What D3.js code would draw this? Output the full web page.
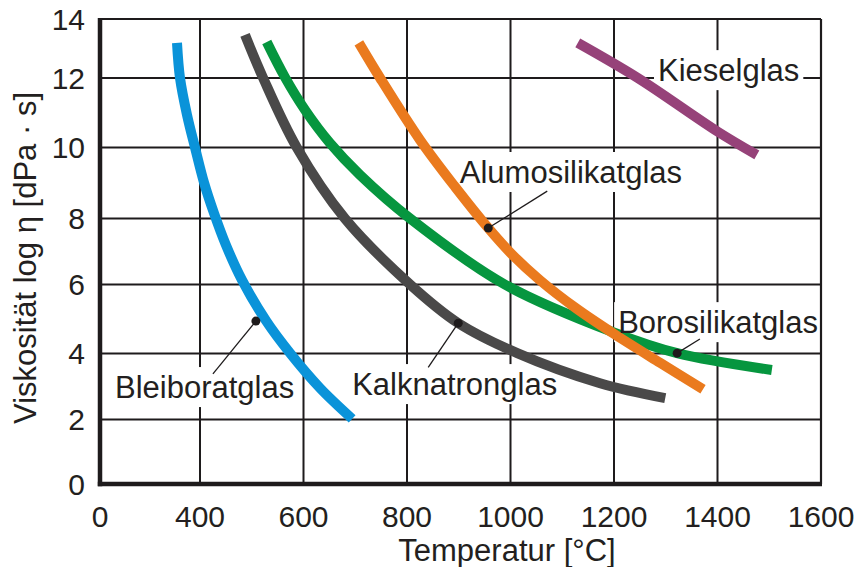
<!DOCTYPE html>
<html>
<head>
<meta charset="utf-8">
<script src="https://cdn.jsdelivr.net/npm/d3@7"></script>
<style>
  html, body { margin: 0; padding: 0; background: #ffffff; }
  svg { display: block; }
  text { font-family: "Liberation Sans", Arial, sans-serif; fill: #231f20; }
</style>
</head>
<body>
<svg id="chart" width="861" height="567"></svg>
<script>
// Tick values of both axes
const tempTicks = [0, 400, 600, 800, 1000, 1200, 1400, 1600];
const viscTicks = [0, 2, 4, 6, 8, 10, 12, 14];

// Viscosity curves: temperature [°C] and log η [dPa·s]
const bleiboratT   = [308, 320, 348, 380, 408, 427, 450, 481, 528, 574, 632, 694];
const bleiboratEta = [13.19, 12.0, 10.94, 10.0, 9.0, 8.15, 7.2, 6.14, 4.94, 4.01, 2.95, 2.02];

const kalknatronT   = [487, 522, 587, 680, 806, 899, 1013, 1173, 1299];
const kalknatronEta = [13.46, 12.0, 10.0, 8.0, 6.0, 4.88, 4.01, 3.1, 2.65];

const borosilikatT   = [529, 564, 603, 651, 709, 806, 989, 1198, 1322, 1505];
const borosilikatEta = [13.22, 12.03, 11.08, 10.13, 9.23, 8.0, 6.0, 4.62, 4.01, 3.5];

const alumosilikatT   = [707, 748, 825, 893, 957, 1003, 1057, 1125, 1203, 1289, 1372];
const alumosilikatEta = [13.19, 12.0, 10.22, 8.89, 7.71, 6.91, 6.13, 5.33, 4.54, 3.72, 2.92];

const kieselT   = [1130, 1246, 1401, 1476];
const kieselEta = [13.19, 12.0, 10.45, 9.79];

// Curve names and colours
const glassNames  = ["Bleiboratglas", "Kalknatronglas", "Borosilikatglas", "Alumosilikatglas", "Kieselglas"];
const glassColors = ["#0a93d9", "#4a4949", "#06963f", "#ea7a1e", "#964279"];

// Marked points on the curves (T, log η) and where their leader lines end
const markT     = [508, 899, 1322, 957];
const markEta   = [4.94, 4.88, 4.01, 7.71];
const leaderT   = [425, 841, 1366, 1071];
const leaderEta = [3.38, 3.58, 4.42, 8.77];

// Label anchors (start of text, baseline) in data units
const labelT   = [60, 694, 1208, 902, 1285];
const labelEta = [2.65, 2.74, 4.59, 9.0, 11.91];

const series = [
  { T: bleiboratT, eta: bleiboratEta },
  { T: kalknatronT, eta: kalknatronEta },
  { T: borosilikatT, eta: borosilikatEta },
  { T: alumosilikatT, eta: alumosilikatEta },
  { T: kieselT, eta: kieselEta }
];

const svg = d3.select("#chart");

// Temperature axis has a break: 0–400 shares one cell, then 200 °C per cell
const x = d3.scaleLinear().domain([0, 400, 1600]).range([100, 200, 821]);
// Viscosity axis follows the drawn grid spacing (top cell slightly shorter)
const y = d3.scaleLinear().domain(viscTicks).range([484, 419.5, 353.5, 284.5, 218.5, 147.5, 78, 19]);

const ink = "#1e1b1c";

// Interior grid lines
const grid = svg.append("g");
grid.selectAll("line.v")
  .data(tempTicks.filter(t => t > 0 && t < 1600))
  .join("line")
  .attr("x1", d => x(d)).attr("x2", d => x(d))
  .attr("y1", y(0)).attr("y2", y(14))
  .attr("stroke", ink).attr("stroke-width", 2);
grid.selectAll("line.h")
  .data(viscTicks.filter(v => v > 0 && v < 14))
  .join("line")
  .attr("x1", x(0)).attr("x2", x(1600))
  .attr("y1", d => y(d)).attr("y2", d => y(d))
  .attr("stroke", ink).attr("stroke-width", 2);

// White boxes that interrupt the grid behind each curve label
const boxLayer = svg.append("g");

// Outer frame: thin top/right, heavy left/bottom axes
svg.append("line")
  .attr("x1", x(0)).attr("x2", x(1600)).attr("y1", y(14)).attr("y2", y(14))
  .attr("stroke", ink).attr("stroke-width", 2.2);
svg.append("line")
  .attr("x1", x(1600)).attr("x2", x(1600)).attr("y1", y(14)).attr("y2", y(0))
  .attr("stroke", ink).attr("stroke-width", 2.2);
svg.append("line")
  .attr("x1", x(0)).attr("x2", x(0)).attr("y1", y(14) - 1).attr("y2", y(0) + 2.2)
  .attr("stroke", ink).attr("stroke-width", 4.5);
svg.append("line")
  .attr("x1", x(0) - 2.2).attr("x2", x(1600) + 1).attr("y1", y(0)).attr("y2", y(0))
  .attr("stroke", ink).attr("stroke-width", 4.5);

// Axis tick labels
svg.append("g").selectAll("text")
  .data(tempTicks)
  .join("text")
  .attr("x", d => x(d))
  .attr("y", 527)
  .attr("text-anchor", "middle")
  .attr("font-size", 30)
  .text(d => d);

svg.append("g").selectAll("text")
  .data(viscTicks)
  .join("text")
  .attr("x", 85)
  .attr("y", d => y(d))
  .attr("dy", "0.35em")
  .attr("text-anchor", "end")
  .attr("font-size", 30)
  .text(d => d);

// Axis titles
svg.append("text")
  .attr("x", 507).attr("y", 561)
  .attr("text-anchor", "middle")
  .attr("font-size", 31)
  .text("Temperatur [°C]");

svg.append("text")
  .attr("transform", "translate(36,258) rotate(-90)")
  .attr("text-anchor", "middle")
  .attr("font-size", 31)
  .text("Viskosität log η [dPa · s]");

// Viscosity curves through the read-off points
const line = d3.line()
  .x(d => x(d[0]))
  .y(d => y(d[1]))
  .curve(d3.curveCatmullRom.alpha(0.5));

svg.append("g").selectAll("path")
  .data(series)
  .join("path")
  .attr("d", s => line(s.T.map((t, i) => [t, s.eta[i]])))
  .attr("fill", "none")
  .attr("stroke", (s, i) => glassColors[i])
  .attr("stroke-width", 10)
  .attr("stroke-linecap", "butt");

// Leader lines and marker dots
svg.append("g").selectAll("line")
  .data(markT)
  .join("line")
  .attr("x1", (d, i) => x(markT[i])).attr("y1", (d, i) => y(markEta[i]))
  .attr("x2", (d, i) => x(leaderT[i])).attr("y2", (d, i) => y(leaderEta[i]))
  .attr("stroke", ink).attr("stroke-width", 1.3);

svg.append("g").selectAll("circle")
  .data(markT)
  .join("circle")
  .attr("cx", (d, i) => x(markT[i]))
  .attr("cy", (d, i) => y(markEta[i]))
  .attr("r", 4.5)
  .attr("fill", ink);

// Curve labels on top
const labelText = svg.append("g")
  .selectAll("text")
  .data(glassNames)
  .join("text")
  .attr("x", (d, i) => x(labelT[i]))
  .attr("y", (d, i) => y(labelEta[i]))
  .attr("font-size", 31)
  .text(d => d);

labelText.each(function () {
  const b = this.getBBox();
  boxLayer.append("rect")
    .attr("x", b.x - 4).attr("y", b.y - 3)
    .attr("width", b.width + 8).attr("height", b.height + 5)
    .attr("fill", "#ffffff");
});
</script>
</body>
</html>
